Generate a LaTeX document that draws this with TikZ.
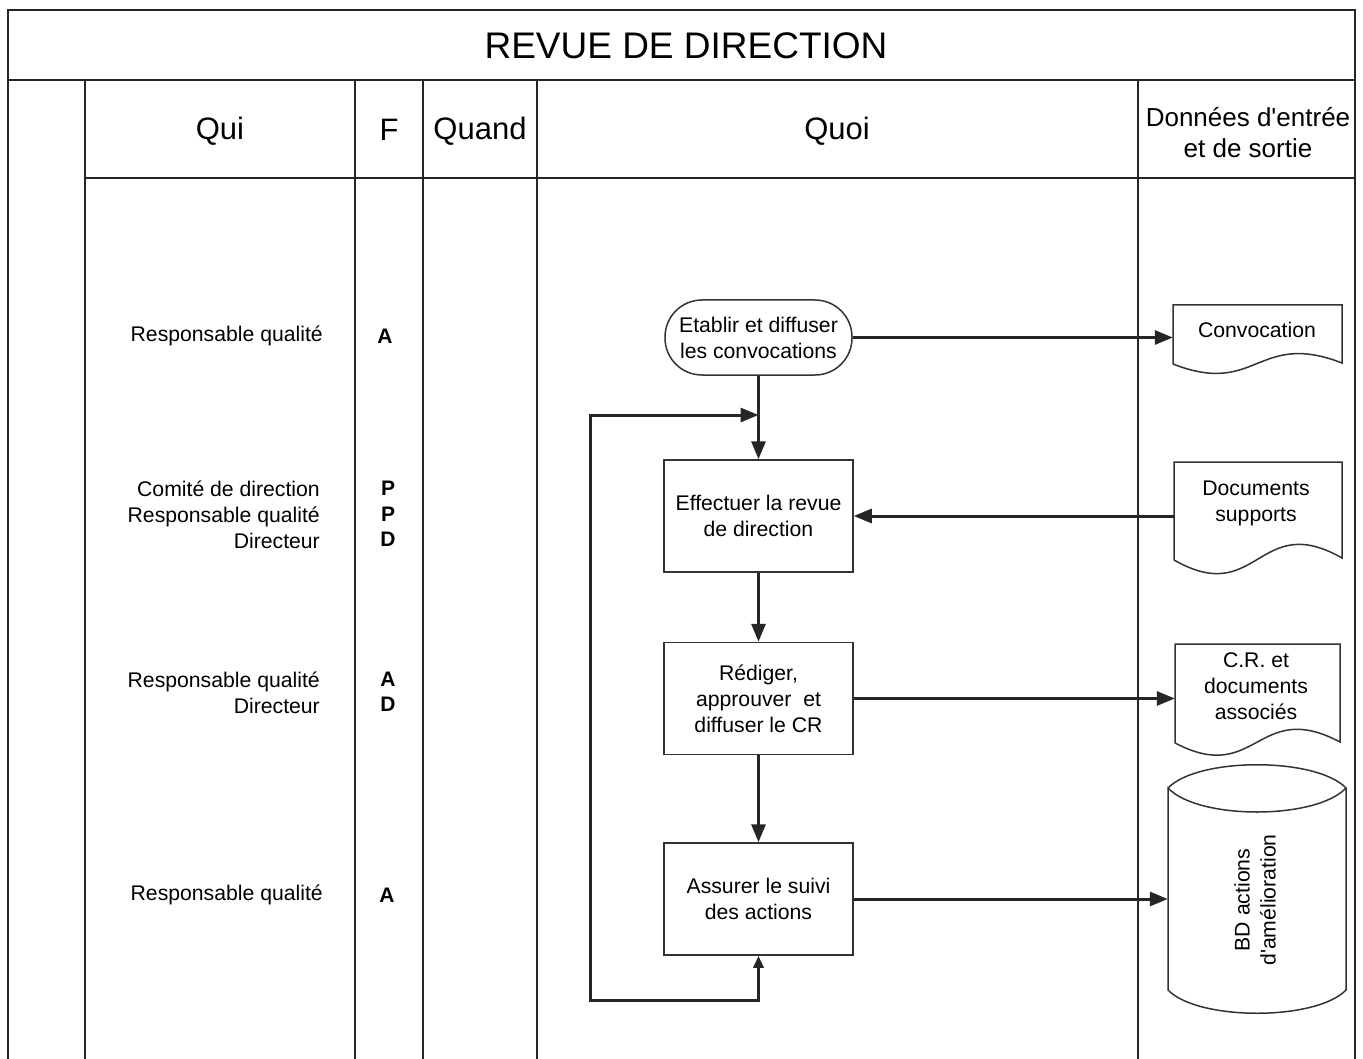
\documentclass[tikz,border=0pt]{standalone}
\usepackage{fontspec}
\setmainfont{Liberation Sans}
\usetikzlibrary{arrows.meta,calc}
\begin{document}
\begin{tikzpicture}[x=1pt,y=-1pt,
  tline/.style={line width=1.8pt, draw=black!85},
  sline/.style={line width=1.5pt, draw=black!80},
  conn/.style={line width=3pt, draw=black!85},
  bigtip/.style={-{Triangle[length=18pt,width=14pt]}},
  body/.style={font=\fontsize{21.2}{26}\selectfont, align=center, inner sep=0pt},
  bodyb/.style={body, font=\fontsize{21}{25.5}\selectfont\bfseries},
  qui/.style={body, align=right, anchor=east},
  head/.style={font=\fontsize{31}{31}\selectfont, inner sep=0pt},
  procbox/.style={body, draw=black!80, line width=1.5pt, minimum width=189pt, minimum height=112pt},
  anchorbox/.style={draw=none, inner sep=0pt, minimum width=#1},
  anchorbox/.default=160pt
]
\useasboundingbox (0,0) rectangle (1363,1059);
\fill[white] (0,0) rectangle (1363,1059);

% ---- table frame
\draw[tline] (8,1059) -- (8,10) -- (1355,10) -- (1355,1059);
\draw[tline] (8,80) -- (1355,80);
\draw[tline] (85,178) -- (1355,178);
\foreach \xx in {85,355,423,537,1138}
  \draw[tline] (\xx,80) -- (\xx,1059);

% ---- title and headers
\node[font=\fontsize{37}{37}\selectfont, inner sep=0pt] (title) at (686,46) {REVUE DE DIRECTION};
\node[head] (hqui) at (220,131) {Qui};
\node[head] (hf) at (389,130) {F};
\node[head] (hquand) at (480,131) {Quand};
\node[head] (hquoi) at (837,131) {Quoi};
\node[font=\fontsize{26}{31}\selectfont, align=center, inner sep=0pt] (hdata) at (1248,133) {Donn\'ees d\textquotesingle entr\'ee\\et de sortie};

% ---- Qui column
\node[qui] (q1) at (323,336) {Responsable qualit\'e};
\node[qui] (q2) at (320,515) {Comit\'e de direction\\Responsable qualit\'e\\Directeur};
\node[qui] (q3) at (320,693) {Responsable qualit\'e\\Directeur};
\node[qui] (q4) at (323,895) {Responsable qualit\'e};

% ---- F column
\node[bodyb] (f1) at (385,336) {A};
\node[bodyb] (f2) at (388,514) {P\\P\\D};
\node[bodyb] (f3) at (388,692) {A\\D};
\node[bodyb] (f4) at (387,895) {A};

% ---- process
\node[procbox, minimum width=187pt, minimum height=75pt, rounded corners=37pt] (term) at (758.5,337.5) {Etablir et diffuser\\les convocations};
\node[procbox] (box2) at (758.5,516) {Effectuer la revue\\de direction};
\node[procbox] (box3) at (758.5,698.5) {R\'ediger,\\approuver\ \ et\\diffuser le CR};
\node[procbox] (box4) at (758.5,899) {Assurer le suivi\\des actions};

% ---- documents (anchor boxes + outlines)
\node[anchorbox=169pt, minimum height=66pt] (conv) at (1257.5,338) {};
\draw[sline] (1173,364) -- (1173,305) -- (1342,305) -- (1342,363)
  .. controls (1257,330) and (1257,397) .. (1173,364);
\node[body] (convt) at (1257,330) {Convocation};

\node[anchorbox=168pt, minimum height=110pt] (docsup) at (1258,517) {};
\draw[sline] (1174,560) -- (1174,462) -- (1342,462) -- (1342,558)
  .. controls (1258,510) and (1258,608) .. (1174,560);
\node[body] (docsupt) at (1256,503) {Documents\\supports};

\node[anchorbox=165pt, minimum height=112pt] (cr) at (1257.5,700) {};
\draw[sline] (1175,743) -- (1175,644) -- (1340,644) -- (1340,742)
  .. controls (1257,698) and (1257,786) .. (1175,743);
\node[body] (crt) at (1256,686) {C.R. et\\documents\\associ\'es};

\node[anchorbox=178pt, minimum height=248pt] (cyl) at (1257,889) {};
\draw[sline] (1168,788) .. controls (1198,757) and (1316,757) .. (1346,788)
  .. controls (1316,820) and (1198,820) .. (1168,788)
  -- (1168,990) .. controls (1198,1021) and (1316,1021) .. (1346,990) -- (1346,788);
\node[body, rotate=90] (cylt) at (1255,900) {BD actions\\d\textquotesingle am\'elioration};

% ---- connectors
\coordinate (join) at (758.5,415);
\coordinate (loopc) at (590,415);
\draw[conn, bigtip] (term.south) -- (box2.north);
\draw[conn, bigtip] (box2.south) -- (box3.north);
\draw[conn, bigtip] (box3.south) -- (box4.north);
\draw[conn, {Triangle[length=12pt,width=10pt]}-{Triangle[length=18pt,width=14pt]}]
  (box4.south) -- ++(0,45) -| (loopc) -- (join);
\draw[conn, bigtip] (term.east) -- (term.east -| conv.west);
\draw[conn, bigtip] (docsup.west |- box2.east) -- (box2.east);
\draw[conn, bigtip] (box3.east) -- (box3.east -| cr.west);
\draw[conn, bigtip] (box4.east) -- (box4.east -| cyl.west);
\end{tikzpicture}
\end{document}
